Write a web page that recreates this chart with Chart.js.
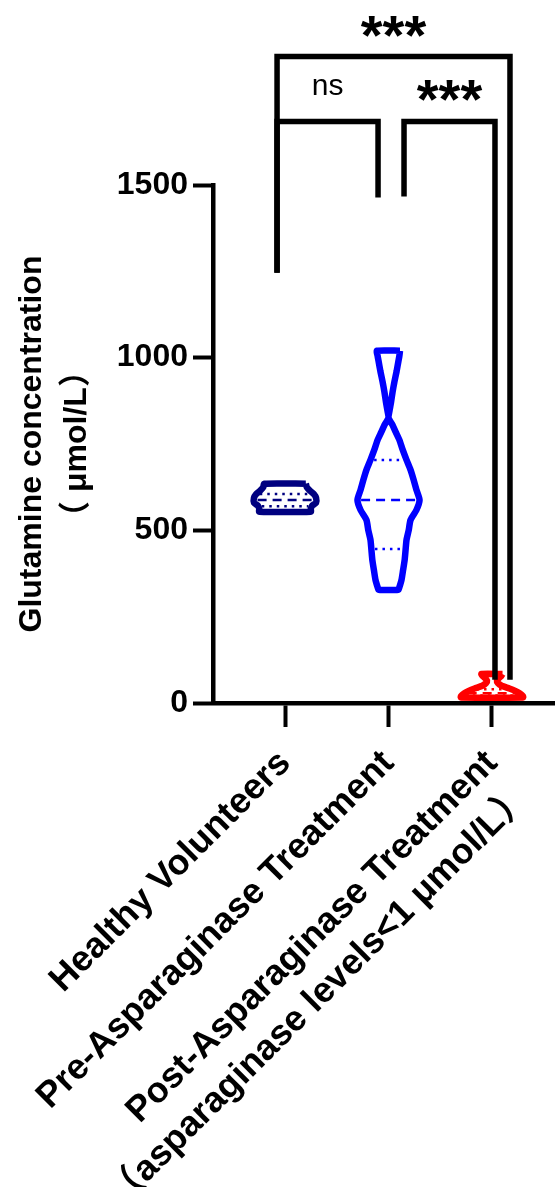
<!DOCTYPE html>
<html>
<head>
<meta charset="utf-8">
<title>Glutamine concentration</title>
<script src="https://cdn.jsdelivr.net/npm/chart.js@4.4.1/dist/chart.umd.min.js"></script>
<style>
  html, body { margin: 0; padding: 0; background: #ffffff; overflow: hidden; }
  canvas { display: block; }
</style>
</head>
<body>
<canvas id="chart" width="555" height="1187"></canvas>
<script>
// Groups along the x axis
const categories = [
  'Healthy Volunteers',
  'Pre-Asparaginase Treatment',
  ['Post-Asparaginase Treatment', '（asparaginase levels<1 μmol/L）']
];
const yTickValues = [0, 500, 1000, 1500];

// Violin outlines: glutamine level (μmol/L) and relative density (1 = widest)
const healthyLevels  = [635, 625, 615, 605, 594, 580, 571, 562, 554];
const healthyDensity = [0.67, 0.70, 0.80, 0.93, 1.00, 1.00, 0.87, 0.83, 0.83];
const healthyQuartiles = [570, 588, 605];

const preLevels  = [1020, 1005, 990, 960, 930, 900, 870, 845, 826, 805, 785, 762, 735, 704, 675, 646, 617, 588, 559, 530, 500, 472, 443, 414, 385, 357, 335, 328];
const preDensity = [0.37, 0.35, 0.32, 0.26, 0.19, 0.13, 0.08, 0.03, 0.00, 0.13, 0.23, 0.35, 0.45, 0.58, 0.71, 0.81, 0.90, 1.00, 0.90, 0.71, 0.65, 0.58, 0.55, 0.52, 0.47, 0.42, 0.35, 0.32];
const preQuartiles = [446, 588, 704];

const postLevels  = [84, 78, 72, 65, 58, 50, 42, 35, 28, 20, 16];
const postDensity = [0.34, 0.30, 0.22, 0.16, 0.19, 0.31, 0.56, 0.75, 0.90, 1.00, 1.00];
const postQuartiles = [22, 28, 40];

// Pairwise comparisons and their significance labels
const comparisons = [
  { a: 0, b: 2, label: '***' },
  { a: 0, b: 1, label: 'ns' },
  { a: 1, b: 2, label: '***' }
];

const HALF = 0.30;            // half-width of the widest part of a violin, in category units
const FONT = "'Liberation Sans', Arial, 'Noto Sans CJK SC', sans-serif";
const COLORS = ['#000080', '#0000ff', '#ff0000'];

function outline(i, levels, dens) {
  const right = levels.map((v, k) => ({ x: i + dens[k] * HALF, y: v }));
  const left = levels.map((v, k) => ({ x: i - dens[k] * HALF, y: v })).reverse();
  return right.concat(left, [right[0]]);
}

function widthAt(level, levels, dens) {
  for (let k = 0; k < levels.length - 1; k++) {
    const a = levels[k], b = levels[k + 1];
    if ((level <= a && level >= b) || (level >= a && level <= b)) {
      const t = (level - a) / (b - a || 1);
      return (dens[k] + t * (dens[k + 1] - dens[k])) * HALF;
    }
  }
  return 0;
}

function quartileLines(i, q, levels, dens, color) {
  return q.map((lv, k) => {
    const w = Math.max(widthAt(lv, levels, dens) - 0.035, 0.02);
    return {
      data: [{ x: i - w, y: lv }, { x: i + w, y: lv }],
      showLine: true, pointRadius: 0, borderColor: color,
      borderWidth: 2.5, borderDash: k === 1 ? [9, 6] : [2.5, 5],
      clip: false
    };
  });
}

const groups = [
  [healthyLevels, healthyDensity, healthyQuartiles],
  [preLevels, preDensity, preQuartiles],
  [postLevels, postDensity, postQuartiles]
];

const datasets = [];
groups.forEach(([lv, dn, q], i) => {
  datasets.push({
    data: outline(i, lv, dn),
    showLine: true, pointRadius: 0, fill: false,
    borderColor: COLORS[i], borderWidth: 6.5, tension: 0.2,
    borderJoinStyle: 'round', clip: false
  });
  quartileLines(i, q, lv, dn, COLORS[i]).forEach(d => datasets.push(d));
});

// Significance brackets drawn against the chart's own scales
const bracketPlugin = {
  id: 'brackets',
  afterDraw(chart, args, opts) {
    const { ctx } = chart;
    const xs = chart.scales.x, ys = chart.scales.y;
    const X = v => xs.getPixelForValue(v);
    const Y = v => ys.getPixelForValue(v);
    ctx.save();
    ctx.strokeStyle = '#000';
    ctx.lineWidth = 5.5;
    ctx.lineCap = 'butt';
    ctx.lineJoin = 'miter';
    opts.shapes.forEach((s, idx) => {
      const c = comparisons[idx];
      const x1 = X(c.a + s.dxLeft), x2 = X(c.b + s.dxRight);
      const yb = Y(s.level);
      ctx.beginPath();
      ctx.moveTo(x1, Y(s.leftEnd));
      ctx.lineTo(x1, yb);
      ctx.lineTo(x2, yb);
      ctx.lineTo(x2, Y(s.rightEnd));
      ctx.stroke();
      const cx = (x1 + x2) / 2;
      ctx.fillStyle = '#000';
      ctx.textAlign = 'center';
      ctx.textBaseline = 'alphabetic';
      if (c.label === 'ns') {
        ctx.font = `30px ${FONT}`;
        ctx.fillText(c.label, cx, yb - 26);
      } else {
        ctx.font = `bold 56px ${FONT}`;
        ctx.fillText(c.label, cx, yb - 3);
      }
    });
    ctx.restore();
  }
};

new Chart(document.getElementById('chart'), {
  type: 'scatter',
  data: { datasets },
  plugins: [bracketPlugin],
  options: {
    responsive: false,
    animation: false,
    devicePixelRatio: 1,
    layout: { padding: { top: 185, left: 0, right: 0, bottom: 0 }, autoPadding: false },
    plugins: {
      legend: { display: false },
      tooltip: { enabled: false },
      brackets: {
        shapes: [
          { level: 1872, dxLeft: -0.077, dxRight: 0.174, leftEnd: 1246, rightEnd: 67 },
          { level: 1684, dxLeft: -0.077, dxRight: -0.101, leftEnd: 1246, rightEnd: 1464 },
          { level: 1684, dxLeft: 0.150, dxRight: 0.029, leftEnd: 1467, rightEnd: 67 }
        ]
      }
    },
    scales: {
      x: {
        type: 'linear',
        min: -0.696,
        max: 2.609,
        afterFit(scale) { scale.height = 484; scale.paddingLeft = 0; scale.paddingRight = 0; },
        afterBuildTicks(scale) { scale.ticks = categories.map((_, i) => ({ value: i })); },
        ticks: {
          autoSkip: false,
          minRotation: 45,
          maxRotation: 45,
          padding: 14,
          color: '#000',
          font: { family: FONT, size: 36, weight: 'bold', lineHeight: 1.3 },
          callback: v => categories[v]
        },
        grid: { drawOnChartArea: false, drawTicks: true, tickLength: 24, tickWidth: 4, tickColor: '#000' },
        border: { display: true, color: '#000', width: 4.5 }
      },
      y: {
        min: 0,
        max: 1500,
        afterFit(scale) { scale.width = 213; scale.paddingTop = 0; scale.paddingBottom = 0; },
        afterBuildTicks(scale) { scale.ticks = yTickValues.map(v => ({ value: v })); },
        ticks: {
          padding: 5,
          color: '#000',
          font: { family: FONT, size: 32, weight: 'bold' },
          callback: v => String(v)
        },
        grid: { drawOnChartArea: false, drawTicks: true, tickLength: 20, tickWidth: 4, tickColor: '#000' },
        border: { display: true, color: '#000', width: 4.5 },
        title: {
          display: true,
          text: ['Glutamine concentration', '（ μmol/L）'],
          color: '#000',
          font: { family: FONT, size: 32, weight: 'bold', lineHeight: 1.4 },
          padding: { top: 10, bottom: 0 }
        }
      }
    }
  }
});
</script>
</body>
</html>
